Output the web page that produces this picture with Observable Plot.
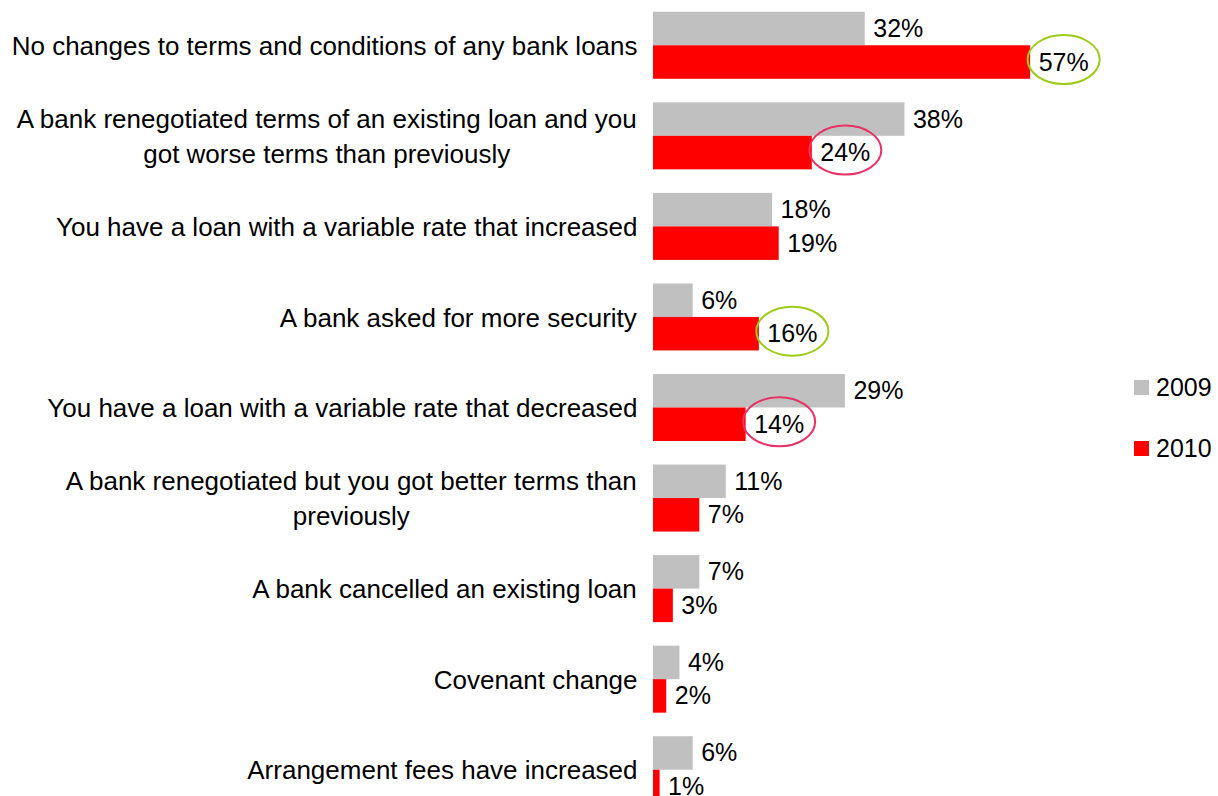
<!DOCTYPE html>
<html>
<head>
<meta charset="utf-8">
<script src="https://cdn.jsdelivr.net/npm/d3@7"></script>
<script src="https://cdn.jsdelivr.net/npm/@observablehq/plot@0.6"></script>
<style>
  html, body { margin: 0; padding: 0; background: #fff; overflow: hidden; }
  #wrap { position: relative; width: 1218px; height: 796px; overflow: hidden; font-family: "Liberation Sans", Arial, sans-serif; }
  #legend { position: absolute; left: 1134px; top: 372px; font-size: 25px; color: #000; }
  .li { display: flex; align-items: center; height: 30px; margin-bottom: 31px; }
  .sw { width: 15px; height: 15px; margin-right: 7px; }
</style>
</head>
<body>
<div id="wrap"><div id="chart"></div><div id="legend"></div></div>
<script>
const categories = [
  "No changes to terms and conditions of any bank loans",
  "A bank renegotiated terms of an existing loan and you\ngot worse terms than previously",
  "You have a loan with a variable rate that increased",
  "A bank asked for more security",
  "You have a loan with a variable rate that decreased",
  "A bank renegotiated but you got better terms than\npreviously",
  "A bank cancelled an existing loan",
  "Covenant change",
  "Arrangement fees have increased"
];
const years = ["2009", "2010"];
const values2009 = [32, 38, 18, 6, 29, 11, 7, 4, 6];
const values2010 = [57, 24, 19, 16, 14, 7, 3, 2, 1];
const colors = ["#c0c0c0", "#ff0000"];
// highlighted 2010 labels: [category index, outline colour]
const highlights = [[0, "#9ccb19"], [1, "#e63264"], [3, "#9ccb19"], [4, "#e63264"]];

const data = [];
categories.forEach((c, i) => {
  data.push({category: c, year: "2009", value: values2009[i]});
  data.push({category: c, year: "2010", value: values2010[i]});
});
const hiData = highlights.map(([i, col]) => ({category: categories[i], year: "2010", value: values2010[i], color: col}));

const FONT = "Liberation Sans, Arial, sans-serif";
const FS = 25;
const LFS = 26;
const ctx = document.createElement("canvas").getContext("2d");
ctx.font = `${LFS}px "Liberation Sans", Arial, sans-serif`;
const lineW = s => Math.max(...s.split("\n").map(l => ctx.measureText(l).width));

// ellipse symbol drawn with bezier curves
const RX = 36, RY = 24.5, K = 0.5523;
const ellipse = {
  draw(p) {
    p.moveTo(RX, 0);
    p.bezierCurveTo(RX, K * RY, K * RX, RY, 0, RY);
    p.bezierCurveTo(-K * RX, RY, -RX, K * RY, -RX, 0);
    p.bezierCurveTo(-RX, -K * RY, -K * RX, -RY, 0, -RY);
    p.bezierCurveTo(K * RX, -RY, RX, -K * RY, RX, 0);
    p.closePath();
  }
};

const labelMarks = categories.map(c => Plot.text([c], {
  fy: d => d,
  text: d => d,
  frameAnchor: "left",
  textAnchor: "middle",
  dx: -16 - lineW(c) / 2,
  dy: -2,
  lineHeight: 1.33,
  fontSize: LFS,
  fill: "#000"
}));

const chart = Plot.plot({
  width: 1218,
  height: 815,
  marginLeft: 653,
  marginRight: 168,
  marginTop: 0,
  marginBottom: 0,
  style: {fontFamily: FONT, fontSize: FS + "px", color: "#000", background: "#fff"},
  fy: {domain: categories, paddingInner: 0.26, paddingOuter: 0.13, round: false, axis: null},
  y: {domain: years, padding: 0, round: false, axis: null},
  x: {domain: [0, 60], axis: null},
  color: {domain: years, range: colors},
  marks: [
    Plot.barX(data, {fy: "category", y: "year", x: "value", fill: "year"}),
    Plot.text(data, {fy: "category", y: "year", x: "value", text: d => d.value + "%", dx: 8, textAnchor: "start", fontSize: FS, fill: "#000"}),
    Plot.dot(hiData, {fy: "category", y: "year", x: "value", dx: 33, dy: -3, symbol: ellipse, stroke: "color", fill: "none", strokeWidth: 2}),
    ...labelMarks
  ]
});
document.getElementById("chart").appendChild(chart);

const legend = document.getElementById("legend");
years.forEach((y, i) => {
  const row = document.createElement("div");
  row.className = "li";
  row.innerHTML = `<div class="sw" style="background:${colors[i]}"></div><span>${y}</span>`;
  legend.appendChild(row);
});
</script>
</body>
</html>
